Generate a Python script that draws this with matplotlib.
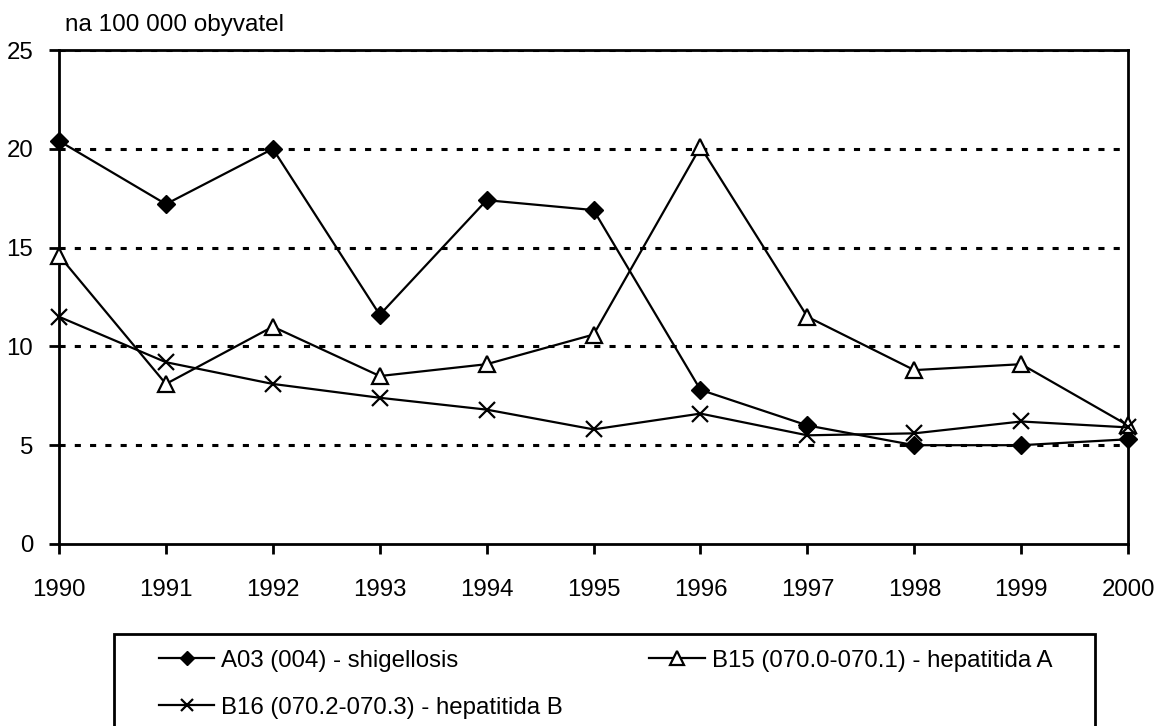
import matplotlib.pyplot as plt
from matplotlib.patches import Rectangle

plt.rcParams['font.family'] = ['Liberation Sans', 'DejaVu Sans']

# roky a hodnoty na 100 000 obyvatel
roky = [1990, 1991, 1992, 1993, 1994, 1995, 1996, 1997, 1998, 1999, 2000]
shigellosis = [20.4, 17.2, 20.0, 11.6, 17.4, 16.9, 7.8, 6.0, 5.0, 5.0, 5.3]
hepatitida_a = [14.6, 8.1, 11.0, 8.5, 9.1, 10.6, 20.1, 11.5, 8.8, 9.1, 6.0]
hepatitida_b = [11.5, 9.2, 8.1, 7.4, 6.8, 5.8, 6.6, 5.5, 5.6, 6.2, 5.9]

popisky = ['A03 (004) - shigellosis',
           'B15 (070.0-070.1) - hepatitida A',
           'B16 (070.2-070.3) - hepatitida B']

fig = plt.figure(figsize=(11.64, 7.26), dpi=100)
ax = fig.add_axes([0.0507, 0.2507, 0.9185, 0.6804])

l1, = ax.plot(roky, shigellosis, color='black', lw=1.6, marker='D',
              markersize=9, markerfacecolor='black', clip_on=False, zorder=3)
l2, = ax.plot(roky, hepatitida_a, color='black', lw=1.6, marker='^',
              markersize=12, markerfacecolor='white', markeredgewidth=1.6,
              clip_on=False, zorder=3)
l3, = ax.plot(roky, hepatitida_b, color='black', lw=1.6, marker='x',
              markersize=11, markeredgewidth=1.6, clip_on=False, zorder=3)

ax.set_xlim(1990, 2000)
ax.set_ylim(0, 25)
ax.set_xticks(roky)
ax.set_yticks([0, 5, 10, 15, 20, 25])

# tečkované vodorovné čáry mřížky
for y in [5, 10, 15, 20, 25]:
    ax.axhline(y, color='black', lw=2.2, linestyle=(0, (2, 3)), zorder=1)

for s in ax.spines.values():
    s.set_linewidth(2)
ax.tick_params(direction='out', length=7.5, width=2, labelsize=17.3)
ax.tick_params(axis='y', pad=11)
ax.tick_params(axis='x', pad=18)

fig.text(0.056, 0.965, 'na 100 000 obyvatel', fontsize=17.5, va='center', ha='left')

# rámeček legendy zvlášť, legenda bez vlastního rámu
fig.patches.append(Rectangle((0.0979, -0.01), 0.8428, 0.1367,
                             transform=fig.transFigure, fill=False,
                             edgecolor='black', linewidth=2))

# pořadí pro řádkové vyplnění legendy
leg = fig.legend([l1, l3, l2], [popisky[0], popisky[2], popisky[1]],
                 ncol=2, loc='upper left', bbox_to_anchor=(0.1366, 0.105),
                 fontsize=17.3, frameon=False, borderpad=0, borderaxespad=0,
                 handlelength=2.3, handletextpad=0.29, labelspacing=1.03,
                 columnspacing=3.6, markerscale=0.8)

fig.savefig('out.png', dpi=100)
